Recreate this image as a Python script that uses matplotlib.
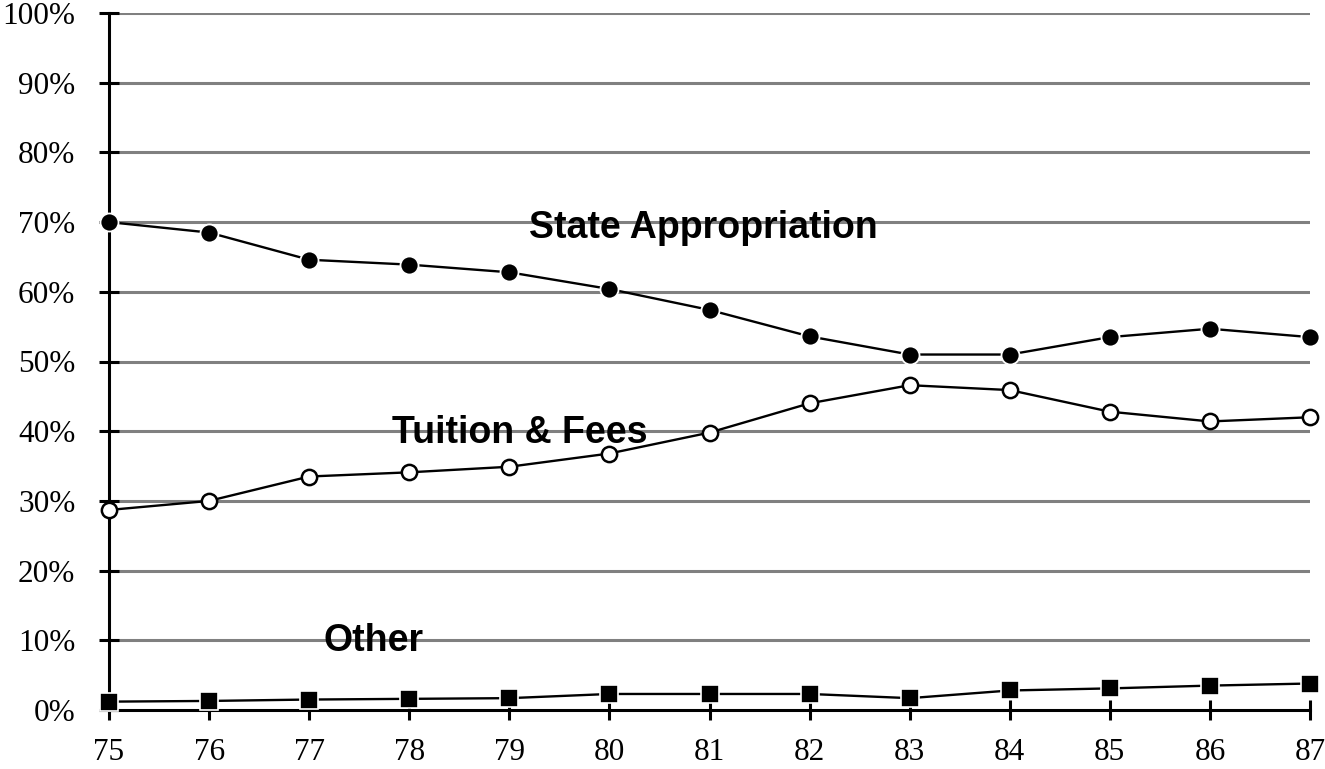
import matplotlib
matplotlib.use("Agg")
import matplotlib.pyplot as plt

years = [75, 76, 77, 78, 79, 80, 81, 82, 83, 84, 85, 86, 87]
state_appropriation = [70.0, 68.5, 64.6, 63.9, 62.8, 60.4, 57.4, 53.6, 51.0, 51.0, 53.5, 54.7, 53.5]
tuition_fees = [28.7, 30.0, 33.5, 34.1, 34.9, 36.8, 39.8, 44.0, 46.6, 45.9, 42.8, 41.4, 42.0]
other = [1.2, 1.3, 1.5, 1.6, 1.7, 2.3, 2.3, 2.3, 1.7, 2.8, 3.1, 3.5, 3.8]
y_ticks = [0, 10, 20, 30, 40, 50, 60, 70, 80, 90, 100]
y_tick_labels = [f"{v}%" for v in y_ticks]

fig = plt.figure(figsize=(13.25, 7.69), dpi=100)
ax = fig.add_axes([109/1325, 1-710/769, (1310-109)/1325, (710-13)/769])

serif = ["Liberation Serif", "DejaVu Serif"]
sans = ["Liberation Sans", "DejaVu Sans"]

# gridlines
for v in y_ticks[1:]:
    ax.axhline(v, color="#808080", lw=2.2, zorder=1)

ax.plot(years, state_appropriation, color="black", lw=1.7, marker="o", markersize=13,
        markerfacecolor="black", markeredgecolor="white", markeredgewidth=1.3,
        clip_on=False, zorder=4)
ax.plot(years, tuition_fees, color="black", lw=1.7, marker="o", markersize=11,
        markerfacecolor="white", markeredgecolor="black", markeredgewidth=1.8,
        clip_on=False, zorder=4)
ax.plot(years, other, color="black", lw=1.7, marker="s", markersize=12.5,
        markerfacecolor="black", markeredgecolor="white", markeredgewidth=1.2,
        clip_on=False, zorder=4)

ax.text(80.94, 69.2, "State Appropriation", family=sans, fontweight="bold",
        fontsize=27, ha="center", va="center", zorder=3)
ax.text(79.1, 39.7, "Tuition & Fees", family=sans, fontweight="bold",
        fontsize=27, ha="center", va="center", zorder=3)
ax.text(77.64, 9.9, "Other", family=sans, fontweight="bold",
        fontsize=27, ha="center", va="center", zorder=3)

ax.set_xlim(75, 87)
ax.set_ylim(0, 100)
ax.set_xticks(years)
ax.set_xticklabels([str(y) for y in years], family=serif, fontsize=22.5)
ax.set_yticks(y_ticks)
ax.set_yticklabels(y_tick_labels, family=serif, fontsize=22.5)

for s in ["top", "right"]:
    ax.spines[s].set_visible(False)
for s in ["left", "bottom"]:
    ax.spines[s].set_linewidth(2.2)
    ax.spines[s].set_color("black")
    ax.spines[s].set_zorder(2)

ax.tick_params(axis="both", direction="inout", length=14.4, width=2.2, color="black")
ax.tick_params(axis="x", pad=13)
ax.tick_params(axis="y", pad=17)
ax.set_facecolor("white")
fig.patch.set_facecolor("white")

fig.savefig("out.png", dpi=100, facecolor="white")
